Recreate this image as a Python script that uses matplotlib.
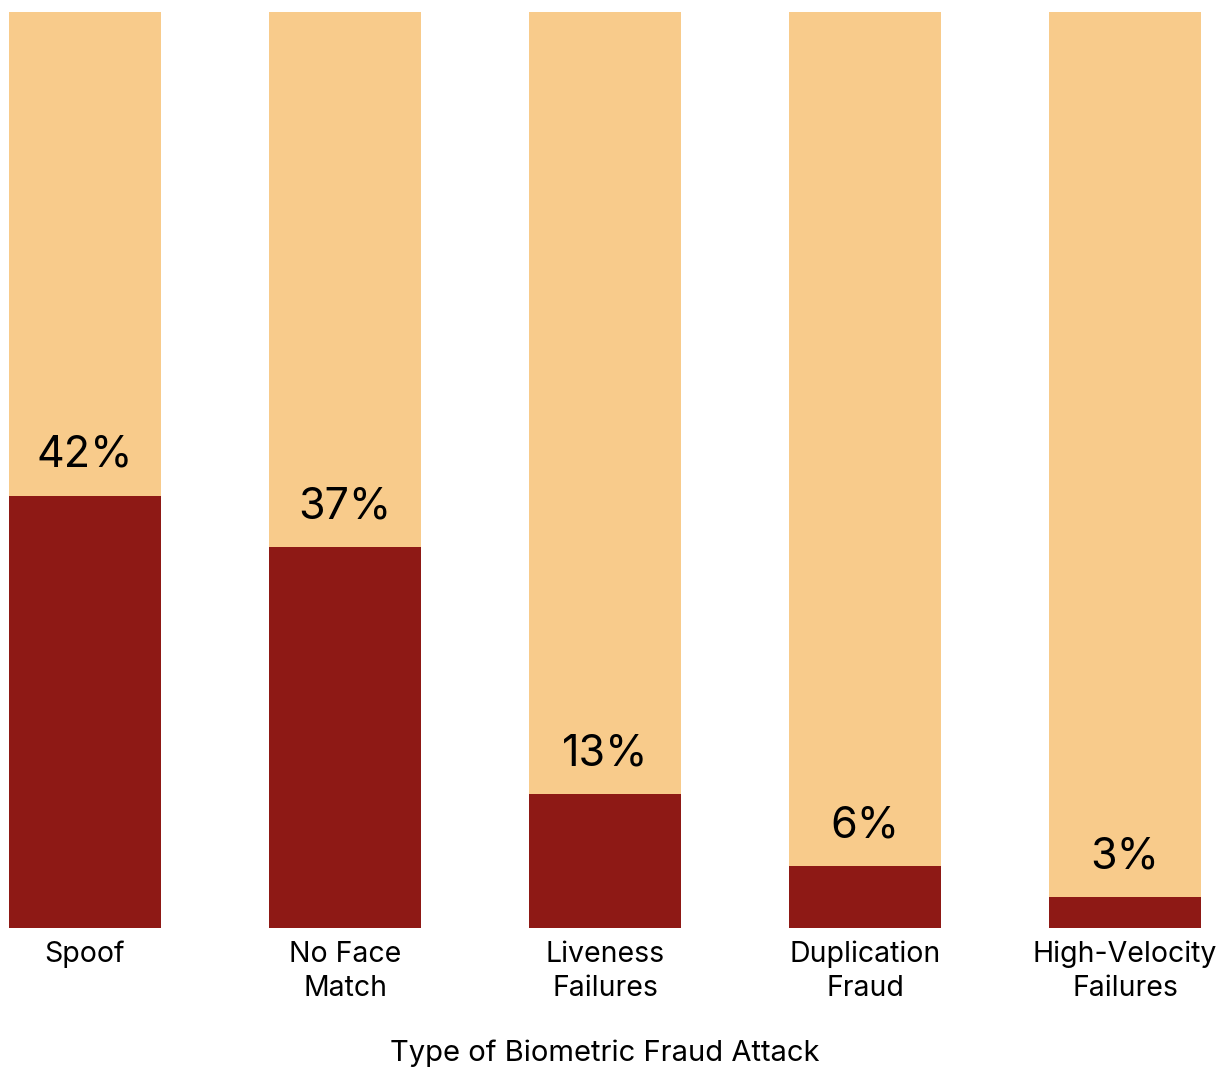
import matplotlib
matplotlib.use("Agg")
import matplotlib.pyplot as plt

# data
categories = ["Spoof", "No Face\nMatch", "Liveness\nFailures", "Duplication\nFraud", "High-Velocity\nFailures"]
shares = [42, 37, 13, 6, 3]
labels = [f"{v}%" for v in shares]

dark = "#8E1915"
light = "#F8CB8B"
ytop = 89

plt.rcParams["font.family"] = ["Inter", "DejaVu Sans"]

fig = plt.figure(figsize=(12.31, 10.70), dpi=100)
W, H = 1231, 1070
ax = fig.add_axes([9 / W, (H - 928) / H, 1192 / W, 916 / H])

x = list(range(len(categories)))
width = 152 / 260
# background bars fill the whole axis height
ax.bar(x, [ytop] * len(x), width=width, color=light, zorder=1)
ax.bar(x, shares, width=width, color=dark, zorder=2)

for xi, v, lab in zip(x, shares, labels):
    ax.annotate(lab, (xi, v), xytext=(0, 29), textcoords="offset points",
                ha="center", va="center", fontsize=31, color="black")

ax.set_xlim(-width / 2, len(x) - 1 + width / 2)
ax.set_ylim(0, ytop)
ax.set_xticks(x)
ax.set_xticklabels(categories, fontsize=20.5, linespacing=1.34)
ax.tick_params(axis="x", length=0, pad=9)
ax.set_yticks([])
for s in ax.spines.values():
    s.set_visible(False)
ax.set_xlabel("Type of Biometric Fraud Attack", fontsize=21, labelpad=27)

fig.savefig("out.png", dpi=100)
